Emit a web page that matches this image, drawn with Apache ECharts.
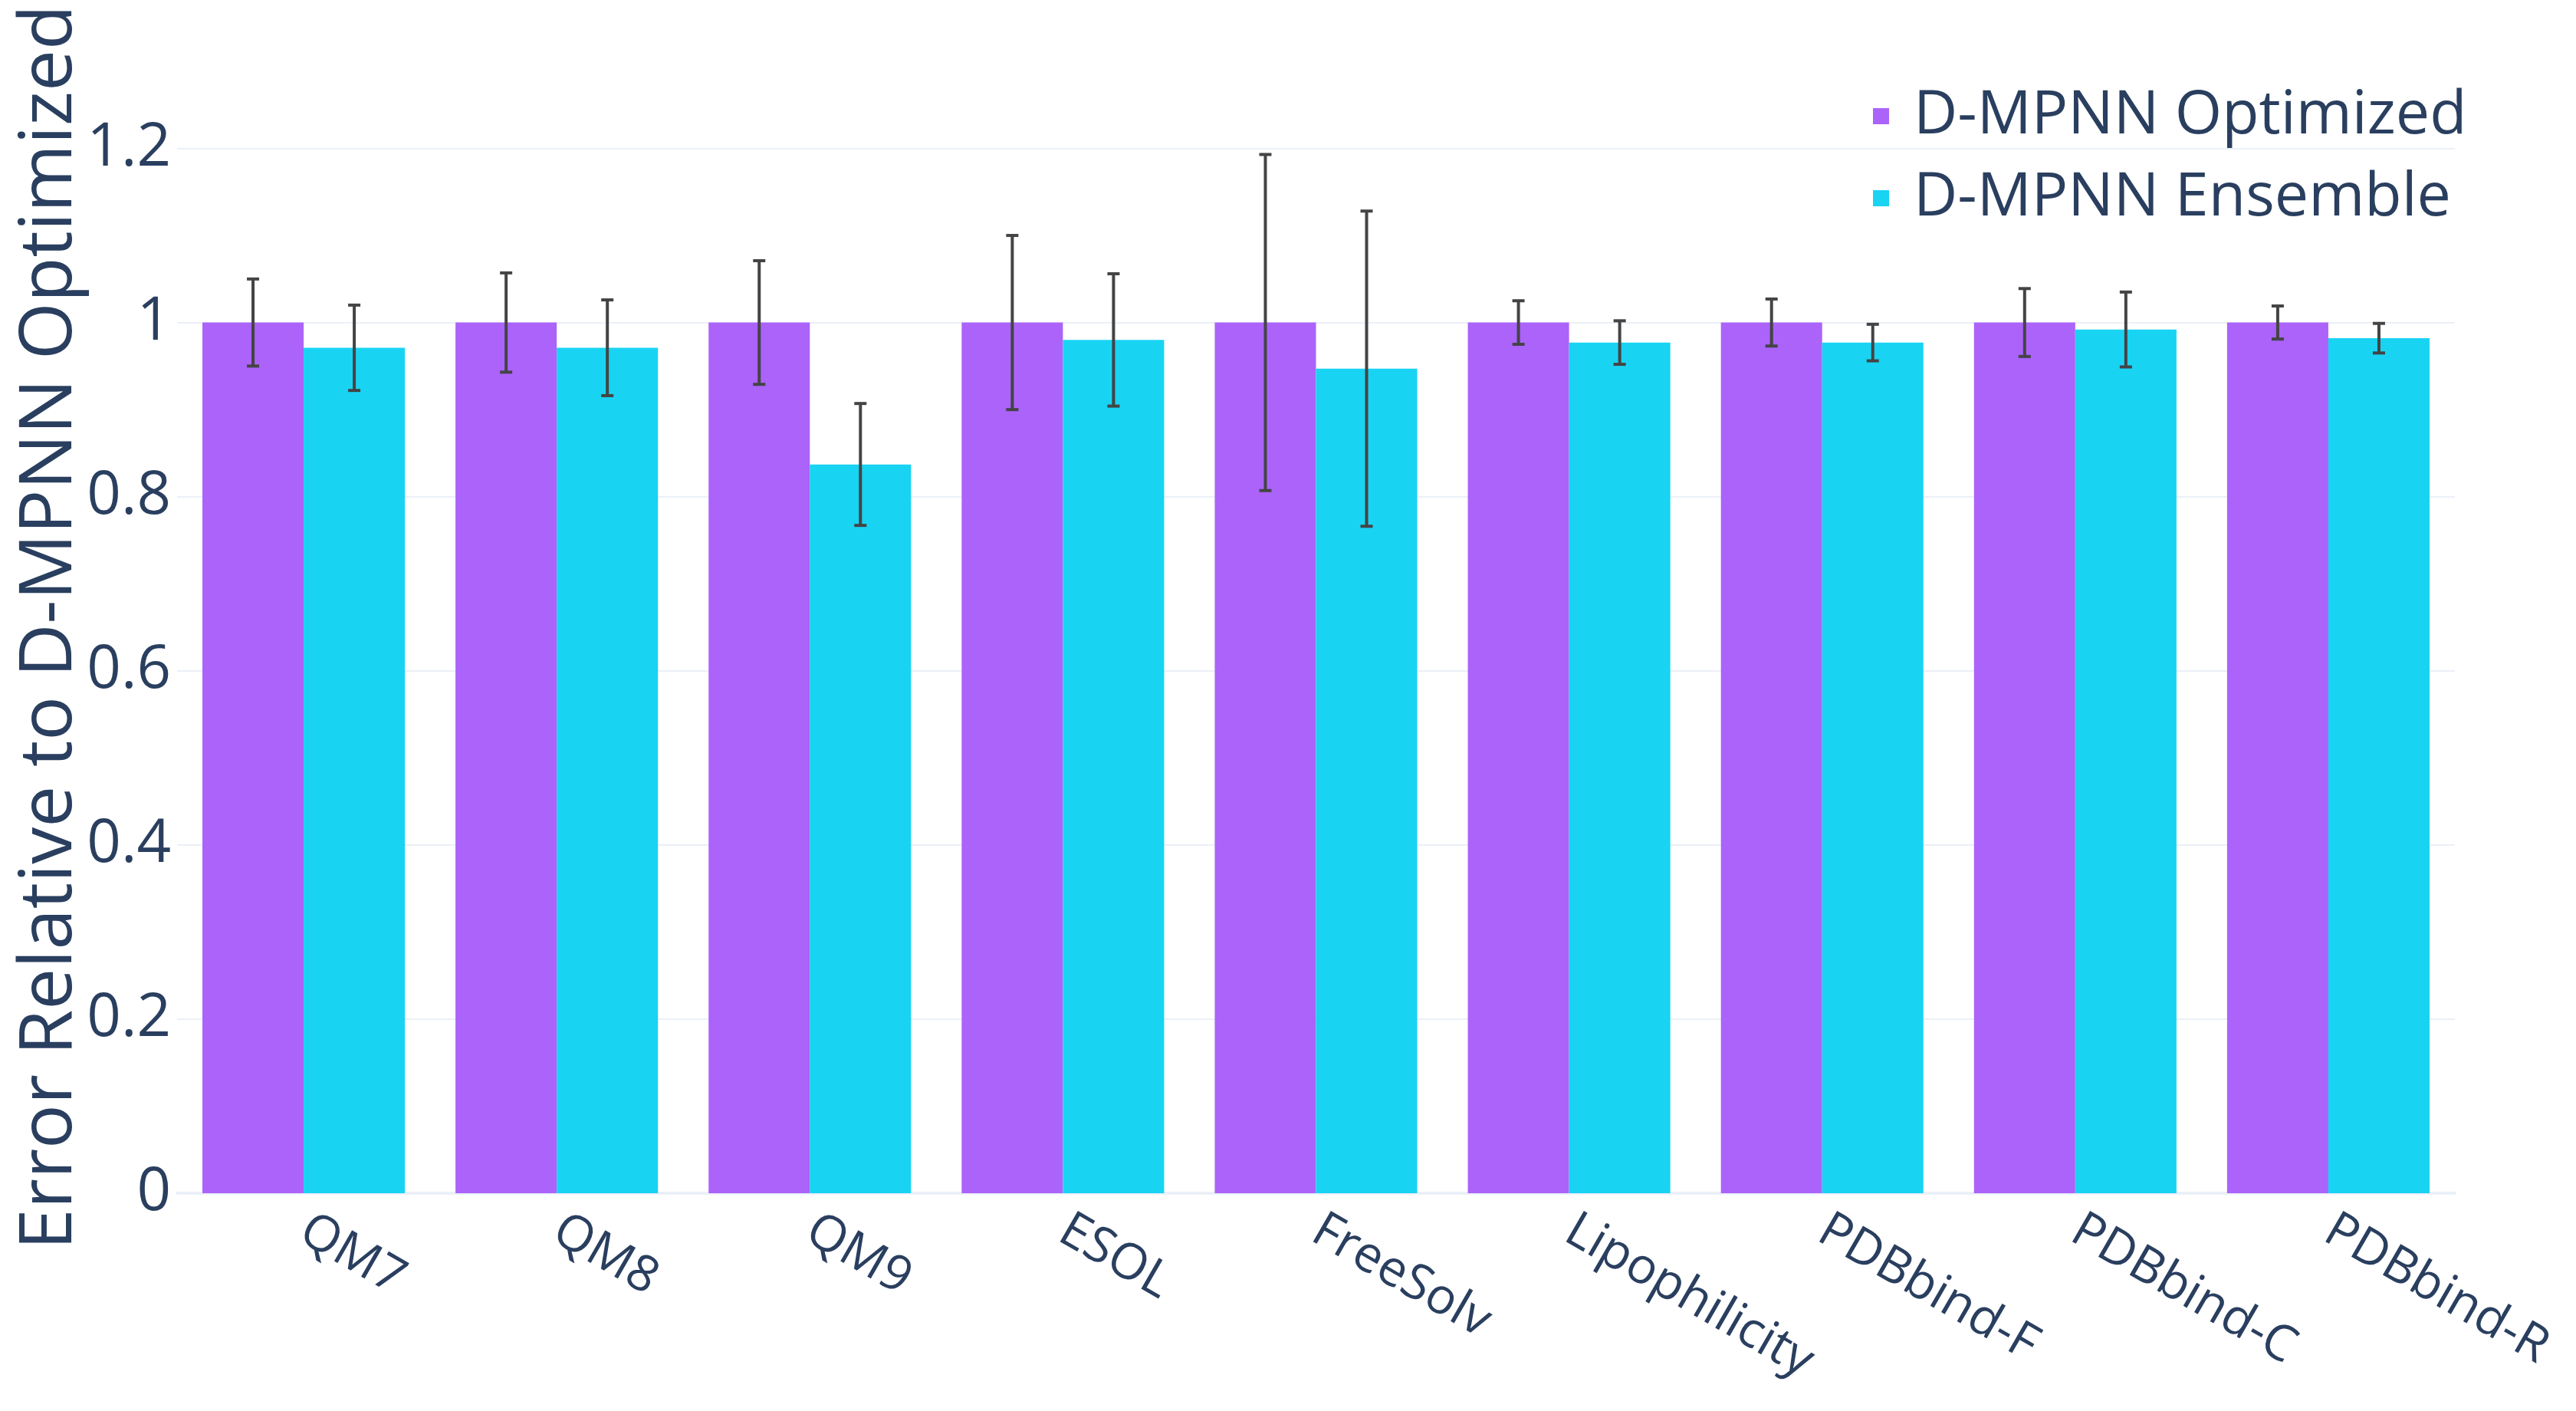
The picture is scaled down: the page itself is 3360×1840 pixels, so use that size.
<!DOCTYPE html>
<html>
<head>
<meta charset="utf-8">
<title>D-MPNN relative error</title>
<script src="https://cdn.jsdelivr.net/npm/echarts@6/dist/echarts.min.js"></script>
<style>
  html, body { margin: 0; padding: 0; background: #fff; }
  #main { width: 3360px; height: 1840px; }
</style>
</head>
<body>
<div id="main"></div>
<script>
// datasets on the x axis
const categories = ['QM7', 'QM8', 'QM9', 'ESOL', 'FreeSolv', 'Lipophilicity', 'PDBbind-F', 'PDBbind-C', 'PDBbind-R'];
// D-MPNN Optimized (reference, always 1) and its error bars
const optimizedValues = [1, 1, 1, 1, 1, 1, 1, 1, 1];
const optimizedErrors = [0.050, 0.057, 0.071, 0.100, 0.193, 0.025, 0.027, 0.039, 0.019];
// D-MPNN Ensemble
const ensembleValues = [0.971, 0.971, 0.837, 0.980, 0.947, 0.977, 0.977, 0.992, 0.982];
const ensembleErrors = [0.049, 0.055, 0.070, 0.076, 0.181, 0.025, 0.021, 0.043, 0.017];
const yTicks = [0, 0.2, 0.4, 0.6, 0.8, 1, 1.2];

const textColor = '#2a3f5f';
const gridColor = '#EBF0F8';
const font = '"Open Sans", sans-serif';

// error bar data: [category index, value, error]
function errData(values, errs) {
  return values.map((v, i) => [i, v, errs[i]]);
}

// draws a vertical error bar with caps, shifted to the centre of its bar
function errorBarItem(side) {
  return function (params, api) {
    const idx = api.value(0);
    const val = api.value(1);
    const err = api.value(2);
    const band = api.size([1, 0])[0];
    const x = api.coord([idx, val])[0] + side * band * 0.2;
    const yTop = api.coord([idx, val + err])[1];
    const yBot = api.coord([idx, val - err])[1];
    const cap = 8;
    const style = { stroke: '#444', lineWidth: 4 };
    return {
      type: 'group',
      children: [
        { type: 'line', shape: { x1: x, y1: yTop, x2: x, y2: yBot }, style: style },
        { type: 'line', shape: { x1: x - cap, y1: yTop, x2: x + cap, y2: yTop }, style: style },
        { type: 'line', shape: { x1: x - cap, y1: yBot, x2: x + cap, y2: yBot }, style: style }
      ]
    };
  };
}

const myChart = echarts.init(document.getElementById('main'));

const option = {
  backgroundColor: '#fff',
  animation: false,
  textStyle: { fontFamily: font, color: textColor },
  grid: { left: 231, right: 158, top: 193.5, bottom: 284, containLabel: false },
  legend: {
    orient: 'vertical',
    left: 2443,
    top: 112,
    padding: 0,
    itemWidth: 21,
    itemHeight: 21,
    itemGap: 28,
    icon: 'rect',
    data: ['D-MPNN Optimized', 'D-MPNN Ensemble'],
    textStyle: { fontFamily: font, fontSize: 79, color: textColor, padding: [0, 0, 0, 27] }
  },
  xAxis: {
    type: 'category',
    data: categories,
    axisLine: { show: true, lineStyle: { color: gridColor, width: 4 } },
    axisTick: { show: false },
    axisLabel: {
      rotate: -30,
      margin: 44,
      fontFamily: font,
      fontSize: 65,
      color: textColor
    }
  },
  yAxis: {
    type: 'value',
    min: 0,
    max: 1.2,
    interval: 0.2,
    axisLine: { show: false },
    axisTick: { show: false },
    splitLine: { lineStyle: { color: gridColor, width: 2 } },
    axisLabel: {
      margin: 8,
      fontFamily: font,
      fontSize: 78,
      color: textColor,
      formatter: v => (yTicks.some(t => Math.abs(t - v) < 1e-9) ? String(+v.toFixed(1)) : '')
    }
  },
  graphic: [
    {
      type: 'text',
      x: 66,
      y: 818,
      rotation: Math.PI / 2,
      style: {
        text: 'Error Relative to D-MPNN Optimized',
        font: '96px "Open Sans", sans-serif',
        fill: textColor,
        align: 'center',
        verticalAlign: 'middle'
      }
    }
  ],
  series: [
    {
      name: 'D-MPNN Optimized',
      type: 'bar',
      data: optimizedValues,
      barGap: 0,
      barCategoryGap: '20%',
      itemStyle: { color: '#AB63FA' }
    },
    {
      name: 'D-MPNN Ensemble',
      type: 'bar',
      data: ensembleValues,
      barGap: 0,
      barCategoryGap: '20%',
      itemStyle: { color: '#19D3F3' }
    },
    {
      type: 'custom',
      renderItem: errorBarItem(-1),
      data: errData(optimizedValues, optimizedErrors),
      encode: { x: 0, y: 1 },
      z: 10
    },
    {
      type: 'custom',
      renderItem: errorBarItem(1),
      data: errData(ensembleValues, ensembleErrors),
      encode: { x: 0, y: 1 },
      z: 10
    }
  ]
};

myChart.setOption(option);
</script>
</body>
</html>
